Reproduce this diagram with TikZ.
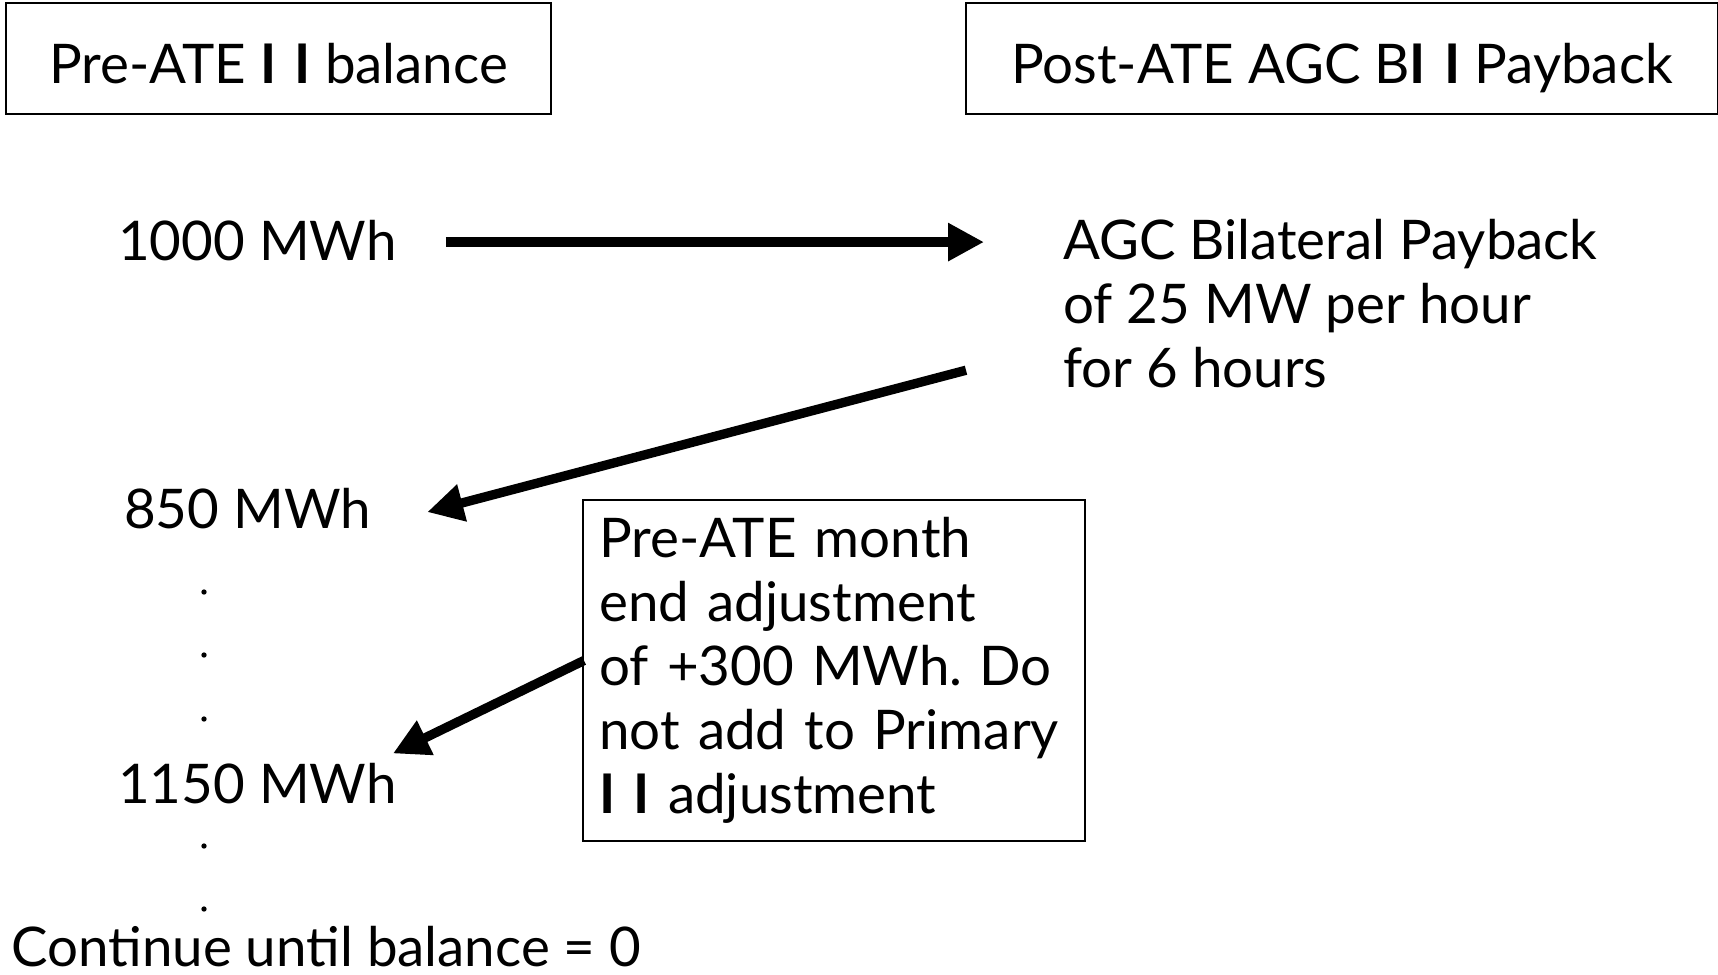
\documentclass[tikz,border=0pt]{standalone}
\usepackage{fontspec}
\setmainfont{Lato}
\usetikzlibrary{arrows.meta,calc}
\begin{document}
\begin{tikzpicture}[x=0.75pt,y=-0.75pt,
  every node/.style={font=\fontsize{41}{48}\selectfont},
  txt/.style={inner sep=0pt,anchor=base west},
  framebox/.style={draw,line width=1.5pt,inner sep=0pt},
  hdrbox/.style={framebox,anchor=north west,text height=36.8pt,text depth=0pt,minimum height=83.25pt},
  bigarrow/.style={line width=7pt,-{Triangle[length=27pt,width=27pt]}},
  dot/.style={circle,fill,inner sep=0pt,minimum size=4pt}
]
\useasboundingbox (0,0) rectangle (1718,975);

% header boxes
\node[hdrbox,minimum width=408.75pt] (hdrL) at (5,2)
      {Pre-ATE \textbf{I\,\,I} balance};
\node[hdrbox,minimum width=564pt] (hdrR) at (965,2)
      {Post-ATE AGC B\textbf{I\,\,I} Payback};

% balance column
\node[txt] (n1000) at (118,260) {1000 MWh};
\node[txt] (n850)  at (124,528) {850 MWh};
\node[txt] (n1150) at (118,803) {1150 MWh};
\node[txt] (cont)  at (11,966) {Continue until balance = 0};

\node[dot] (d1) at (204,592) {};
\node[dot] (d2) at (204,655) {};
\node[dot] (d3) at (204,719) {};
\node[dot] (d4) at (204,846) {};
\node[dot] (d5) at (204,909) {};

% payback description
\node[inner sep=0pt,anchor=north west,align=left] (agc) at (1063,219)
  {AGC Bilateral Payback\\of 25 MW per hour\\for 6 hours};

% month end adjustment
\node[framebox,anchor=north west,minimum width=376.5pt,minimum height=255.75pt,
      text width=352pt,align=left,inner xsep=12pt] (adj) at (582,499)
  {Pre-ATE month\\end adjustment\\\mbox{of +300 MWh.\hspace{0.3em}Do}\\not add to Primary\\\textbf{I\,\,I} adjustment};

% connectors
\draw[bigarrow] ($(n1000.east)+(49,2)$) -- ($(n1000.east -| agc.west)+(-79,2)$);
\draw[bigarrow] ($(agc.south west)+(-97,-18)$) -- ($(n850.east)+(56,4)$);
\draw[bigarrow] ($(adj.west)+(2,-10)$) -- ($(n1150.north east)+(-4,-9)$);
\end{tikzpicture}
\end{document}
